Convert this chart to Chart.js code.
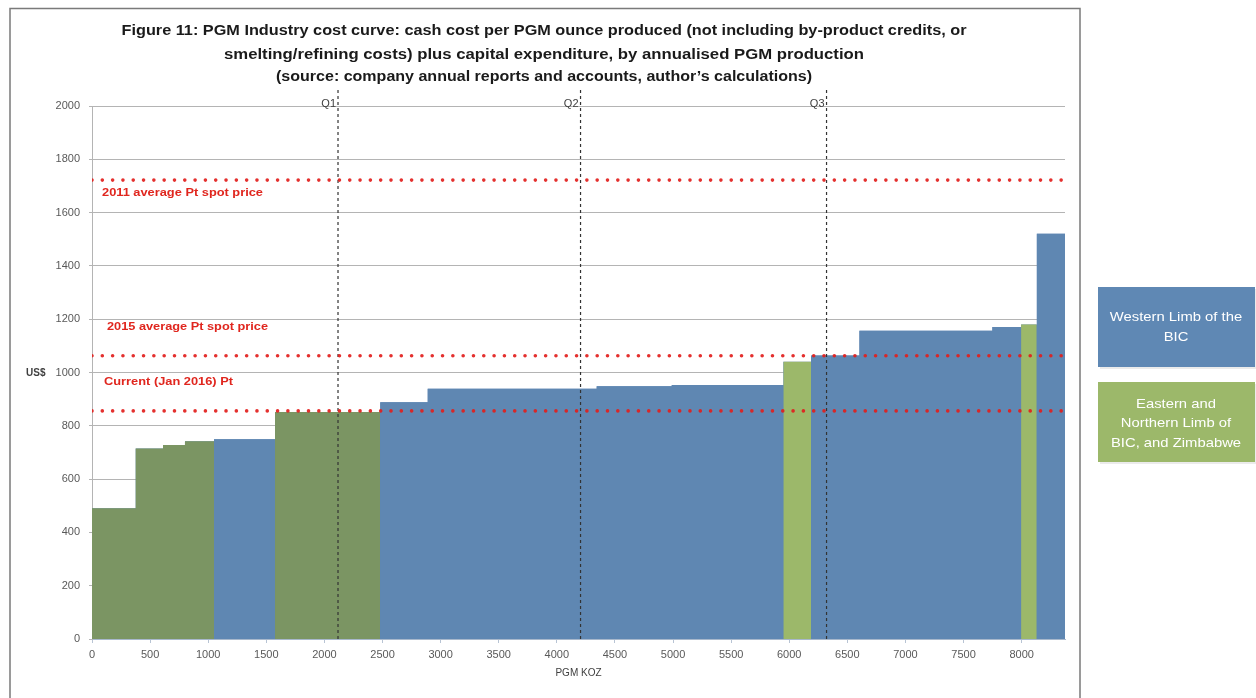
<!DOCTYPE html>
<html><head><meta charset="utf-8">
<script src="https://cdn.jsdelivr.net/npm/chart.js@4/dist/chart.umd.min.js"></script>
<style>html,body{margin:0;padding:0;background:#fff;overflow:hidden}#wrap{width:1256px;height:698px;position:relative}</style>
</head><body><div id="wrap"><canvas id="c" width="1256" height="698"></canvas></div>
<script>
// ---- data ----
// cumulative annualised PGM production boundaries (koz)
const boundaries = [0, 376, 611, 800, 1050, 1575, 2480, 2889, 4343, 4989, 5949, 6188, 6604, 7748, 7995, 8130, 8373];
// cash cost + capex per PGM oz (US$) for each producer block
const costs = [491, 715, 728, 742, 750, 852, 888, 939, 948, 953, 1040, 1064, 1157, 1171, 1180, 1521];
// region of each block: W = Western Limb of the BIC, E = Eastern/Northern Limb of BIC and Zimbabwe
const regions = ['E','E','E','E','W','E','W','W','W','W','E','W','W','W','E','W'];
const quartileNames = ['Q1','Q2','Q3'];
const quartileValues = [2117, 4204, 6321];
const priceNames = ['2011 average Pt spot price','2015 average Pt spot price','Current (Jan 2016) Pt'];
const priceValues = [1722, 1063, 856];
const xTickValues = [0, 500, 1000, 1500, 2000, 2500, 3000, 3500, 4000, 4500, 5000, 5500, 6000, 6500, 7000, 7500, 8000];
const yTickValues = [0, 200, 400, 600, 800, 1000, 1200, 1400, 1600, 1800, 2000];
const xMax = 8373;
const titleLines = [
  'Figure 11: PGM Industry cost curve: cash cost per PGM ounce produced (not including by-product credits, or',
  'smelting/refining costs) plus capital expenditure, by annualised PGM production',
  '(source: company annual reports and accounts, author\u2019s calculations)'
];
const legendLines = [['Western Limb of the', 'BIC'], ['Eastern and', 'Northern Limb of', 'BIC, and Zimbabwe']];
const xTitle = 'PGM KOZ';
const yTitle = 'US$';

// ---- styles ----
const BLUE = '#5f87b2';
const GREEN_DARK = '#7b9563';
const GREEN_LIGHT = '#9cb86a';
const RED = 'rgba(226,30,28,0.92)';
const FONT = '"Liberation Sans", Arial, sans-serif';

function blockColor(i) {
  if (regions[i] === 'W') return BLUE;
  return boundaries[i] < 3000 ? GREEN_DARK : GREEN_LIGHT;
}

// step curve points: start of each block, plus end of the last block
const curve = costs.map((c, i) => ({x: boundaries[i], y: c}));
curve.push({x: boundaries[boundaries.length - 1], y: costs[costs.length - 1]});

const datasets = [];
priceValues.forEach((p) => {
  datasets.push({
    data: [{x: 0, y: p}, {x: xMax, y: p}],
    borderColor: RED, borderWidth: 3.6, borderDash: [0.01, 10.3], borderCapStyle: 'round',
    pointRadius: 0, fill: false, order: 0
  });
});
quartileValues.forEach((q) => {
  datasets.push({
    data: [{x: q, y: 0}, {x: q, y: 2069}],
    borderColor: '#333', borderWidth: 1.2, borderDash: [3, 3],
    pointRadius: 0, fill: false, clip: false, order: 1
  });
});
// coloured blocks (segment colour by region)
datasets.push({
  data: curve, stepped: 'before', fill: 'origin',
  backgroundColor: BLUE, borderColor: 'rgba(0,0,0,0)', borderWidth: 0, pointRadius: 0,
  segment: { backgroundColor: (c) => blockColor(c.p0DataIndex) },
  order: 2
});
// underlay of the whole curve (hides antialiasing seams)
datasets.push({
  data: curve, stepped: 'before', fill: 'origin',
  backgroundColor: BLUE, borderColor: 'rgba(0,0,0,0)', borderWidth: 0, pointRadius: 0,
  order: 3
});

function fitText(ctx, text, x, y, width, align) {
  const w = ctx.measureText(text).width;
  const s = width / w;
  ctx.save();
  let left = x;
  if (align === 'center') left = x - width / 2;
  ctx.translate(left, y);
  ctx.scale(s, 1);
  ctx.textAlign = 'left';
  ctx.fillText(text, 0, 0);
  ctx.restore();
}
function scaledText(ctx, text, cx, y, sx) {
  ctx.save();
  ctx.translate(cx, y);
  ctx.scale(sx, 1);
  ctx.textAlign = 'center';
  ctx.fillText(text, 0, 0);
  ctx.restore();
}

const decor = {
  id: 'decor',
  beforeDraw(chart) {
    const ctx = chart.ctx;
    ctx.save();
    ctx.fillStyle = '#fff';
    ctx.fillRect(0, 0, chart.width, chart.height);
    ctx.restore();
  },
  afterDraw(chart) {
    const ctx = chart.ctx;
    const xs = chart.scales.x;
    ctx.save();
    // frame
    ctx.strokeStyle = '#7a7a7a';
    ctx.lineWidth = 1.5;
    ctx.beginPath();
    ctx.moveTo(10, 700); ctx.lineTo(10, 8.5); ctx.lineTo(1080, 8.5); ctx.lineTo(1080, 700);
    ctx.stroke();
    // title
    ctx.fillStyle = '#1a1a1a';
    ctx.font = 'bold 14px ' + FONT;
    ctx.textBaseline = 'middle';
    const tw = [845, 640, 536];
    const ty = [31, 55, 77];
    titleLines.forEach((t, i) => fitText(ctx, t, 544, ty[i], tw[i], 'center'));
    // quartile labels
    ctx.font = '11px ' + FONT;
    ctx.fillStyle = '#404040';
    ctx.textAlign = 'right';
    quartileValues.forEach((q, i) => {
      ctx.fillText(quartileNames[i], xs.getPixelForValue(q) - 2, 104);
    });
    // price labels
    ctx.font = 'bold 11px ' + FONT;
    ctx.fillStyle = '#e0261e';
    const px = [102, 107, 104];
    const py = [193, 327, 382];
    const pw = [161, 161, 129];
    priceNames.forEach((t, i) => fitText(ctx, t, px[i], py[i], pw[i], 'left'));
    // y title
    ctx.font = 'bold 10px ' + FONT;
    ctx.fillStyle = '#404040';
    ctx.textAlign = 'left';
    ctx.fillText(yTitle, 26, 373);
    // legend
    const boxes = [
      {y: 287, color: '#5f88b4', ly: [317, 337]},
      {y: 382, color: '#9cb86a', ly: [404, 423, 443]}
    ];
    boxes.forEach((b, k) => {
      ctx.fillStyle = 'rgba(0,0,0,0.08)';
      ctx.fillRect(1100, b.y + 2, 157, 80);
      ctx.fillStyle = b.color;
      ctx.fillRect(1098, b.y, 157, 80);
      ctx.fillStyle = '#ffffff';
      ctx.font = '13px ' + FONT;
      legendLines[k].forEach((l, i) => scaledText(ctx, l, 1176, b.ly[i], 1.14));
    });
    ctx.restore();
  }
};

new Chart(document.getElementById('c'), {
  type: 'line',
  data: { datasets },
  plugins: [decor],
  options: {
    responsive: false,
    animation: false,
    events: [],
    layout: { padding: { left: 0, right: 191, top: 106, bottom: 0 } },
    plugins: { legend: { display: false }, tooltip: { enabled: false }, title: { display: false } },
    scales: {
      x: {
        type: 'linear', min: 0, max: xMax,
        afterFit(s) { s.height = 59; },
        afterBuildTicks(s) { s.ticks = xTickValues.map(v => ({value: v})); },
        ticks: { maxRotation: 0, minRotation: 0, autoSkip: false, padding: 5,
          callback: (v) => String(v),
          color: '#595959', font: { family: FONT, size: 11 } },
        grid: { drawOnChartArea: false, tickLength: 4, color: '#b8c4d4' },
        border: { color: '#a8b8cc' },
        title: { display: true, text: xTitle, color: '#404040', padding: { top: 0, bottom: 19 },
          font: { family: FONT, size: 10 } }
      },
      y: {
        min: 0, max: 2000,
        afterFit(s) { s.width = 92; },
        afterBuildTicks(s) { s.ticks = yTickValues.map(v => ({value: v})); },
        ticks: { padding: 9, color: '#595959', callback: (v) => String(v),
          font: { family: FONT, size: 11 } },
        grid: { color: '#b4b4b4', tickLength: 3, lineWidth: 1 },
        border: { color: '#b4b4b4' }
      }
    }
  }
});
</script></body></html>
